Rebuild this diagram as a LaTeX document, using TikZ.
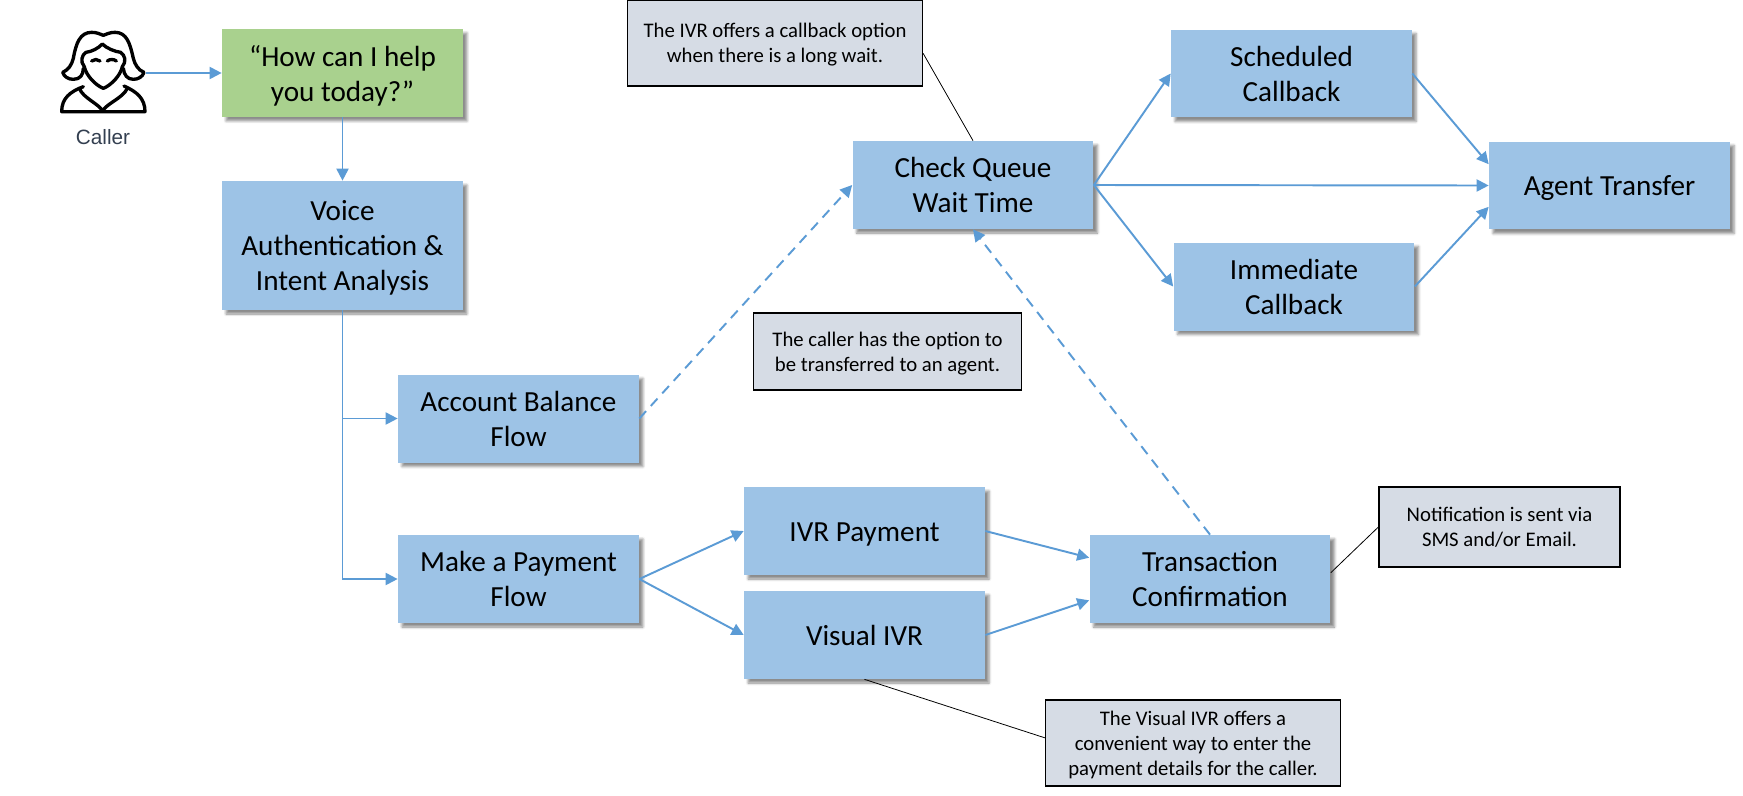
\documentclass[tikz,border=0pt]{standalone}
\usepackage{fontspec}
\setmainfont{Carlito}
\newfontfamily\labelfont{Liberation Sans}
\usetikzlibrary{arrows.meta,shadows.blur}

\definecolor{boxblue}{HTML}{9DC3E6}
\definecolor{boxgreen}{HTML}{A9D18E}
\definecolor{notegray}{HTML}{D6DCE5}
\definecolor{linkblue}{HTML}{5B9BD5}
\definecolor{labelgray}{HTML}{333F50}

\tikzset{
  flowbox/.style={fill=boxblue,minimum width=4.82cm,minimum height=1.76cm,align=center,inner sep=0pt,
    font=\fontsize{16.6}{19.9}\selectfont,text depth=-1pt,
    blur shadow={shadow xshift=0.08cm,shadow yshift=-0.08cm,shadow blur radius=0.05cm,shadow opacity=45}},
  oneline/.style={text height=11.9pt},
  notebox/.style={draw=black,line width=0.75pt,fill=notegray,align=center,inner sep=0pt,
    font=\fontsize{11.8}{14.2}\selectfont,text depth=-1.6pt},
  flow/.style={draw=linkblue,line width=1.1pt,-{Triangle[length=0.24cm,width=0.24cm]}},
  waitflow/.style={flow,dash pattern=on 0.2cm off 0.14cm},
  noteline/.style={draw=black,line width=0.45pt}
}

\begin{document}
\begin{tikzpicture}[x=0.02cm,y=-0.02cm]
\useasboundingbox (0,0) rectangle (1743,795);

% Caller
\begin{scope}[shift={(50,20)},scale=1/3,line width=1.9pt,line join=round,line cap=round]
\draw (100,145) .. controls (100,165) and (90,178) .. (70,178) .. controls (55,178) and (42,170) .. (38,157)
  .. controls (55,150) and (65,135) .. (70,115) .. controls (78,70) and (90,37) .. (125,37)
  .. controls (140,37) and (150,42) .. (160,46) .. controls (170,42) and (180,37) .. (195,37)
  .. controls (230,37) and (240,70) .. (250,115) .. controls (255,135) and (265,150) .. (282,157)
  .. controls (278,170) and (265,178) .. (250,178) .. controls (232,178) and (222,165) .. (220,145);
\draw (157,72) .. controls (145,85) and (125,95) .. (108,97) .. controls (95,105) and (90,125) .. (103,140)
  .. controls (108,165) and (135,195) .. (160,205) .. controls (185,195) and (212,165) .. (217,140)
  .. controls (230,125) and (225,105) .. (212,97) .. controls (195,95) and (170,85) .. (157,72);
\draw (125,123) .. controls (132,117) and (143,117) .. (150,123);
\draw (172,123) .. controls (179,117) and (192,117) .. (199,123);
\draw (100,200) .. controls (60,215) and (35,235) .. (35,275) -- (285,275) .. controls (285,235) and (260,215) .. (222,198);
\draw (88,205) .. controls (100,235) and (145,250) .. (158,273) .. controls (170,250) and (218,235) .. (232,205);
\end{scope}
\coordinate (caller) at (146,73);
\node[font=\labelfont\fontsize{11.8}{14}\selectfont,text=labelgray] (callerlabel) at (103,137) {Caller};

% Flow boxes
\node[flowbox,fill=boxgreen] (greeting) at (342.5,73) {“How can I help\\you today?”};
\node[flowbox,minimum height=2.58cm] (voice) at (342.5,245.5) {Voice\\Authentication \&\\Intent Analysis};
\node[flowbox] (account) at (518.5,418.5) {Account Balance\\Flow};
\node[flowbox] (payment) at (518.5,579) {Make a Payment\\Flow};
\node[flowbox,oneline] (ivrpay) at (864.5,531) {IVR Payment};
\node[flowbox,oneline] (visual) at (864.5,635) {Visual IVR};
\node[flowbox] (confirm) at (1210,579) {Transaction\\Confirmation};
\node[flowbox] (queue) at (973,185) {Check Queue\\Wait Time};
\node[flowbox] (sched) at (1291.5,73.5) {Scheduled\\Callback};
\node[flowbox] (immed) at (1294,286.5) {Immediate\\Callback};
\node[flowbox,oneline] (agent) at (1609.5,185.5) {Agent Transfer};

% Notes
\node[notebox,minimum width=5.9cm,minimum height=1.72cm] (queuenote) at (775,43) {The IVR offers a callback option\\when there is a long wait.};
\node[notebox,minimum width=5.36cm,minimum height=1.54cm] (agentnote) at (887.5,351.5) {The caller has the option to\\be transferred to an agent.};
\node[notebox,minimum width=4.82cm,minimum height=1.6cm] (smsnote) at (1499.5,527) {Notification is sent via\\SMS and/or Email.};
\node[notebox,minimum width=5.9cm,minimum height=1.72cm] (visualnote) at (1193,743) {The Visual IVR offers a\\convenient way to enter the\\payment details for the caller.};

% Connectors
\draw[flow] (caller) -- (greeting.west);
\draw[flow] (greeting) -- (voice);
\draw[flow] (voice.south) |- (account.west);
\draw[flow] (voice.south) |- (payment.west);
\draw[flow] (payment.east) -- (ivrpay.west);
\draw[flow] (payment.east) -- (visual.west);
\draw[flow] (ivrpay.east) -- (confirm.170);
\draw[flow] (visual.east) -- (confirm.190);
\draw[waitflow] (account.east) -- (queue.west);
\draw[waitflow] (confirm.north) -- (queue.south);
\draw[flow] (queue.east) -- (sched.west);
\draw[flow] (queue.east) -- (agent.west);
\draw[flow] (queue.east) -- (immed.west);
\draw[flow] (sched.east) -- (agent.170);
\draw[flow] (immed.east) -- (agent.190);

% Note lines
\draw[noteline] (queuenote.-4) -- (queue.north);
\draw[noteline] (smsnote.west) -- (confirm.3);
\draw[noteline] (visualnote.178) -- (visual.south);
\end{tikzpicture}
\end{document}
